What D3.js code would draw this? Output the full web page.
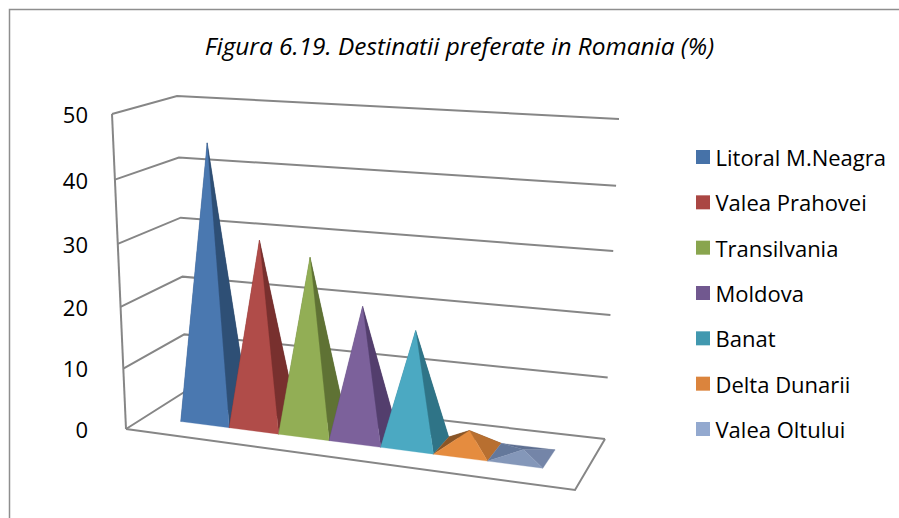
<!DOCTYPE html>
<html><head><meta charset="utf-8">
<script src="https://cdn.jsdelivr.net/npm/d3@7"></script>
<style>html,body{margin:0;padding:0;background:#fff;overflow:hidden}text{font-family:"Open Sans",sans-serif;fill:#000}</style>
</head><body><svg id="c" width="899" height="518"></svg>
<script>
const titleText = "Figura 6.19. Destinatii preferate in Romania (%)";
const categories = ["Litoral M.Neagra","Valea Prahovei","Transilvania","Moldova","Banat","Delta Dunarii","Valea Oltului"];
const values = [44.7, 30, 28, 21, 18, 3, 1];
const valueTicks = [0,10,20,30,40,50];
const legendColors = ["#4672a8","#aa4643","#89a54e","#71588f","#4198af","#db843d","#93a9cf"];
const frontColors = ["#4a78b0","#b04c49","#92ae55","#7c619b","#4ba9c2","#e58c3f","#8497b9"];
const sideColors  = ["#2e4f75","#78302e","#5f7234","#533e6d","#2f7487","#b86f30","#7485a8"];
const leftColors  = ["#355a86","#853533","#697f3a","#5c4579","#347f94","#8a5526","#64789b"];
const backColors  = ["#284466","#662927","#52632d","#47355e","#286574","#7a4c22","#5f7092"];

// plot-box corners: floor and top plane (F/B front/back, L/R left/right)
const floorQuad=[[126,429],[575,490],[605,439],[186,391]];
const topQuad=[[112,114],[593,148],[619,119],[177,96]];
const perspectiveBlend=0.5, heightBow=0.053, apexShift=0.004;

function quadMap(q){
  const [P0,P1,P2,P3]=q;
  const dx1=P1[0]-P2[0], dx2=P3[0]-P2[0], sx=P0[0]-P1[0]+P2[0]-P3[0];
  const dy1=P1[1]-P2[1], dy2=P3[1]-P2[1], sy=P0[1]-P1[1]+P2[1]-P3[1];
  const den=dx1*dy2-dx2*dy1;
  const g=(sx*dy2-dx2*sy)/den, h=(dx1*sy-sx*dy1)/den;
  const a=P1[0]-P0[0]+g*P1[0], b=P3[0]-P0[0]+h*P3[0];
  const d=P1[1]-P0[1]+g*P1[1], e=P3[1]-P0[1]+h*P3[1];
  return (u,w)=>{
    const D=g*u+h*w+1;
    const hx=(a*u+b*w+P0[0])/D, hy=(d*u+e*w+P0[1])/D;
    const lx=d3.interpolate(d3.interpolate(P0[0],P1[0])(u),d3.interpolate(P3[0],P2[0])(u))(w);
    const ly=d3.interpolate(d3.interpolate(P0[1],P1[1])(u),d3.interpolate(P3[1],P2[1])(u))(w);
    return [lx+(hx-lx)*perspectiveBlend, ly+(hy-ly)*perspectiveBlend];
  };
}
const onFloor=quadMap(floorQuad), onTop=quadMap(topQuad);
const project=(u,w,v)=>{
  const A=onFloor(u,w), B=onTop(u,w), t=v/(1+heightBow*(1-v));
  return [A[0]+(B[0]-A[0])*t, A[1]+(B[1]-A[1])*t];
};

const vScale=d3.scaleLinear().domain([0,50]).range([0,1]);
const uScale=d3.scaleBand().domain(categories).range([0.088,0.913]).padding(0);
const wFront=0.31, wBack=0.68;

const svg=d3.select("#c");
const line=d3.line();
const gray="#868686";
svg.append("rect").attr("x",9.5).attr("y",9.5).attr("width",1000).attr("height",1000)
  .attr("fill","#fff").attr("stroke","#8e8e8e").attr("stroke-width",1.5);
svg.append("text").attr("x",459.5).attr("y",55).attr("text-anchor","middle")
  .attr("font-size",24.4).attr("font-style","italic").text(titleText);

const seg=(pts)=>svg.append("path").attr("d",line(pts)).attr("fill","none").attr("stroke",gray).attr("stroke-width",2);
valueTicks.forEach(t=>{
  const v=vScale(t);
  seg([project(0,0,v),project(0,1,v),project(1,1,v)]);
  const pos=project(0,0,v);
  svg.append("text").attr("x",88).attr("y",pos[1]+1).attr("dy","0.36em").attr("text-anchor","end")
    .attr("font-size",22).text(t);
});
seg([project(0,0,0),project(0,0,1)]);
seg([project(0,0,0),project(1,0,0),project(1,1,0)]);

categories.forEach((cat,i)=>{
  const u0=uScale(cat), u1=u0+uScale.bandwidth(), um=(u0+u1)/2+apexShift, wm=(wFront+wBack)/2;
  const apex=project(um,wm,vScale(values[i]));
  const fl=project(u0,wFront,0), fr=project(u1,wFront,0), br=project(u1,wBack,0), bl=project(u0,wBack,0);
  const faces=[[[bl,br,apex],backColors[i]],[[fl,bl,apex],leftColors[i]],[[fr,br,apex],sideColors[i]],[[fl,fr,apex],frontColors[i]]];
  faces.forEach(([pts,col])=>svg.append("path").attr("d",line(pts)+"Z").attr("fill",col).attr("stroke",col).attr("stroke-width",0.3));
});

const legendY=d3.scalePoint().domain(categories).range([157,429]);
categories.forEach((cat,i)=>{
  const y=legendY(cat);
  svg.append("rect").attr("x",696).attr("y",y-7).attr("width",14).attr("height",14).attr("fill",legendColors[i]);
  svg.append("text").attr("x",715.5).attr("y",y+1).attr("dy","0.36em").attr("font-size",22).text(cat);
});
</script></body></html>
